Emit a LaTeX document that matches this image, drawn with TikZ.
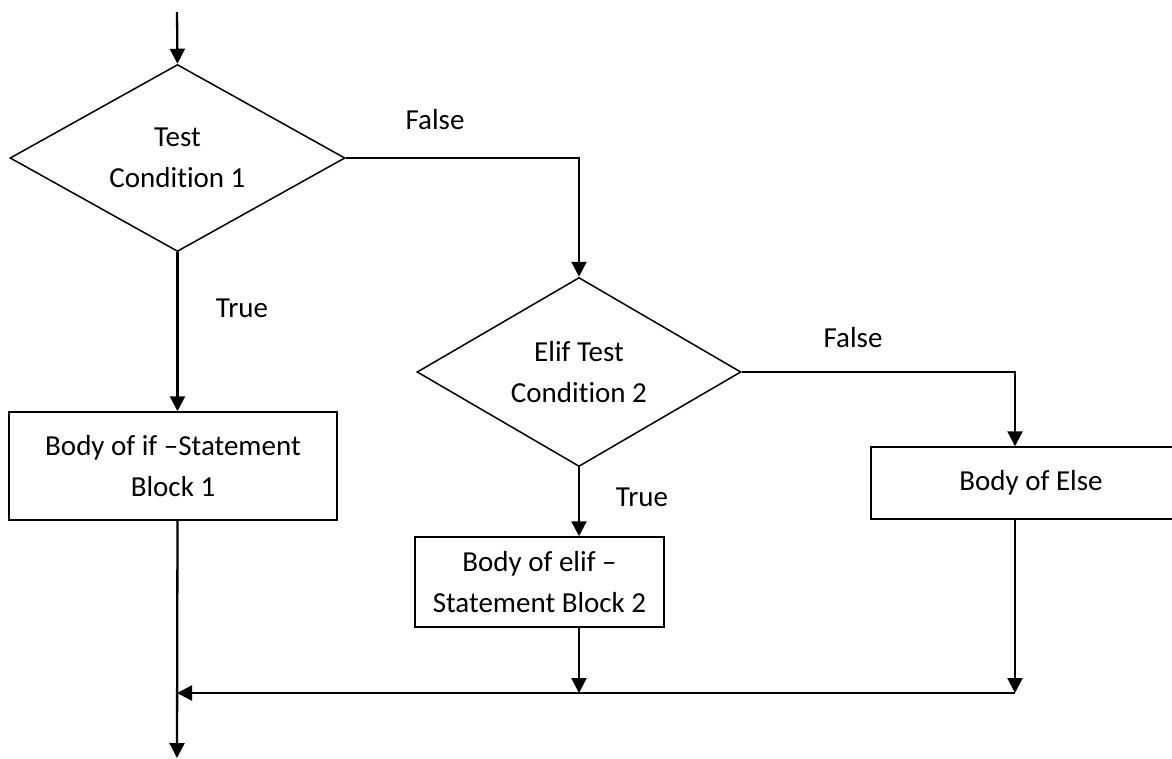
\documentclass[tikz,border=0pt]{standalone}
\usepackage{fontspec}
\setmainfont[Ligatures={NoCommon,NoContextual,NoRare}]{Carlito}
\usetikzlibrary{shapes.geometric,arrows.meta,calc}
\tikzset{
  dia/.style={diamond, draw, line width=1.5pt, inner sep=0pt, aspect=1.79, align=center},
  boxn/.style={rectangle, draw, line width=1.5pt, inner sep=0pt, align=center},
  conn/.style={line width=2.3pt, -{Triangle[length=15pt,width=15pt]}},
  lbl/.style={inner sep=0pt}
}
\begin{document}
\begin{tikzpicture}[x=1pt,y=-1pt,font=\fontsize{29}{41}\selectfont]
\useasboundingbox (0,0) rectangle (1172,758);
\clip (0,0) rectangle (1172,758);
% nodes
\node[dia, minimum width=335pt, minimum height=187pt] (d1) at (177.5,158) {Test\\Condition 1};
\node[dia, minimum width=324pt, minimum height=189pt] (d2) at (579,372) {Elif Test\\Condition 2};
\node[boxn, minimum width=328pt, minimum height=108pt] (b1) at (173,466) {Body of if –Statement\\Block 1};
\node[boxn, minimum width=249pt, minimum height=90pt] (b2) at (539.5,582) {Body of elif –\\Statement Block 2};
\node[boxn, minimum width=320pt, minimum height=72pt] (b3) at (1031,483) {Body of Else};
% labels
\node[lbl] (f1) at (435,120) {False};
\node[lbl] (t1) at (242,308) {True};
\node[lbl] (f2) at (853,338) {False};
\node[lbl] (t2) at (642,497) {True};
% coordinates
\coordinate (start) at (177,12);
\coordinate (k3) at (1015,0);
\coordinate (m) at (177,693);
\coordinate (fin) at (177,758);
% connectors
\draw[conn] (start) -- (d1.north);
\draw[conn] (d1.east) -| (d2.north);
\draw[conn] (d1.south) -- (d1.south |- b1.north);
\draw[conn] (d2.east) -| (k3 |- b3.north);
\draw[conn] (d2.south) -- (d2.south |- b2.north);
\draw[conn] (d2.south |- b2.south) -- (d2.south |- m);
\draw[conn] (k3 |- b3.south) -- (k3 |- m);
\draw[conn] (k3 |- m) -- (m);
\draw[conn] (d1.south |- b1.south) -- (fin);
\end{tikzpicture}
\end{document}
